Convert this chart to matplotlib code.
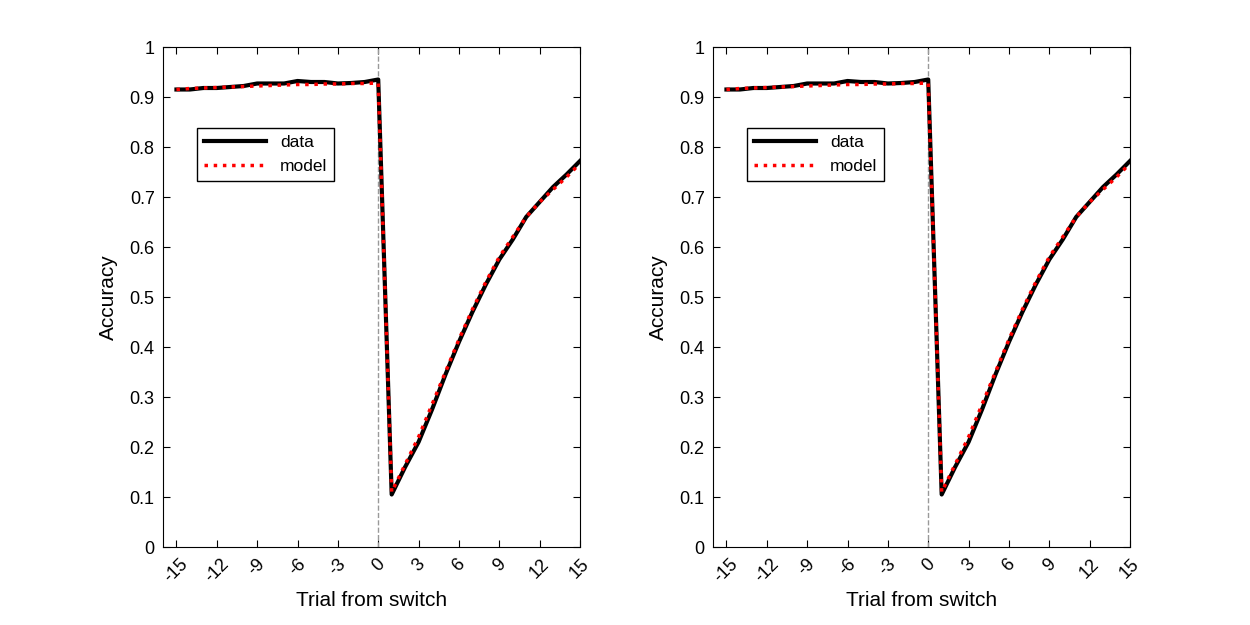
import numpy as np
import matplotlib
matplotlib.use("Agg")
from matplotlib import pyplot as plt

plt.rcParams['font.family'] = ['Liberation Sans', 'DejaVu Sans']

trial = np.arange(-15, 16)
data_acc = [0.915, 0.915, 0.918, 0.918, 0.920, 0.922, 0.927, 0.927, 0.927, 0.932,
            0.930, 0.930, 0.927, 0.928, 0.930, 0.935,
            0.105, 0.160, 0.210, 0.275, 0.345, 0.410, 0.470, 0.525, 0.575, 0.615,
            0.660, 0.690, 0.720, 0.745, 0.772]
model_acc = [0.915, 0.917, 0.918, 0.919, 0.920, 0.921, 0.922, 0.923, 0.924, 0.925,
             0.925, 0.926, 0.926, 0.927, 0.927, 0.928,
             0.110, 0.165, 0.220, 0.285, 0.350, 0.415, 0.475, 0.530, 0.580, 0.620,
             0.660, 0.690, 0.715, 0.740, 0.767]
xticks = np.arange(-15, 16, 3)
yticks = np.round(np.arange(0, 1.01, 0.1), 1)

fig = plt.figure(figsize=(12.5, 6.25), dpi=100)
for left in [163 / 1250, 713 / 1250]:
    ax = fig.add_axes([left, 78 / 625, 417 / 1250, 500 / 625])
    ax.axvline(0, color='0.6', ls='--', lw=1)
    ax.plot(trial, data_acc, color='k', lw=3, label='data')
    ax.plot(trial, model_acc, color='r', lw=2.5, ls=':', label='model')
    ax.set_xlim(-16, 15)
    ax.set_ylim(0, 1)
    ax.set_xticks(xticks)
    ax.set_xticklabels([str(t) for t in xticks], rotation=45, fontsize=13)
    ax.set_yticks(yticks)
    ax.set_yticklabels([f'{v:g}' for v in yticks], fontsize=13)
    ax.tick_params(direction='in', top=True, right=True, length=5, pad=6)
    ax.set_xlabel('Trial from switch', fontsize=15)
    ax.set_ylabel('Accuracy', fontsize=15, labelpad=8)
    ax.legend(loc='upper left', bbox_to_anchor=(0.06, 0.855), fontsize=12.5,
              fancybox=False, edgecolor='k', framealpha=1, handlelength=3.6)

fig.savefig('out.png')
